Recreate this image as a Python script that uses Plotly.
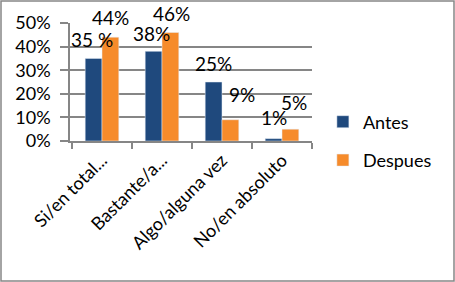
import plotly.graph_objects as go

categories = ["Si/en total...", "Bastante/a...", "Algo/alguna vez", "No/en absoluto"]
antes = [0.35, 0.38, 0.25, 0.01]
despues = [0.44, 0.46, 0.09, 0.05]
antes_labels = ["35 %", "38%", "25%", "1%"]
despues_labels = ["44%", "46%", "9%", "5%"]
tick_vals = [0, 0.1, 0.2, 0.3, 0.4, 0.5]
tick_text = ["0%", "10%", "20%", "30%", "40%", "50%"]

BLUE = "#1F497D"
ORANGE = "#F68B2B"
GRID = "#868686"
FONT = "Lato"

# label placement (pixel nudges, style only)
ANTES_NUDGE = [(-10, 19), (-11, 18), (-9, 19), (-8, 21)]
DESPUES_NUDGE = [(8, 20), (9, 19), (20, 25), (12, 27)]

fig = go.Figure()
fig.add_trace(go.Bar(name="Antes", x=categories, y=antes, marker_color=BLUE, legendgroup="a"))
fig.add_trace(go.Bar(name="Despues", x=categories, y=despues, marker_color=ORANGE, legendgroup="d"))

for i, c in enumerate(categories):
    fig.add_annotation(x=c, y=antes[i], text=antes_labels[i], showarrow=False,
                       xref="x", yref="y", xshift=ANTES_NUDGE[i][0], yshift=ANTES_NUDGE[i][1],
                       font=dict(size=19, color="#000", family=FONT), borderpad=0)
    fig.add_annotation(x=c, y=despues[i], text=despues_labels[i], showarrow=False,
                       xref="x", yref="y", xshift=DESPUES_NUDGE[i][0], yshift=DESPUES_NUDGE[i][1],
                       font=dict(size=19, color="#000", family=FONT), borderpad=0)

L, T, W, H = 70, 23, 242, 118
fig.add_shape(type="rect", xref="paper", yref="paper",
              x0=(1 - L) / W, x1=(454 - L) / W,
              y0=-(281 - (T + H)) / H, y1=(T + H - 1) / H,
              line=dict(color=GRID, width=1.5))

fig.update_layout(
    width=455, height=282,
    margin=dict(l=L, r=455 - L - W, t=T, b=282 - T - H, autoexpand=False),
    paper_bgcolor="white", plot_bgcolor="white",
    barmode="group", bargap=0.44, bargroupgap=0,
    font=dict(family=FONT, size=18, color="#000"),
    showlegend=True,
    legend=dict(x=1.045, y=0.0, yanchor="middle", xanchor="left",
                font=dict(size=18, family=FONT), itemwidth=30,
                tracegroupgap=12, bgcolor="rgba(0,0,0,0)"),
    xaxis=dict(type="category", showline=True, linecolor=GRID, linewidth=1.5,
               ticks="outside", tickson="boundaries", ticklen=6, tickcolor=GRID,
               tickwidth=1.5, tickangle=-45, showgrid=False, automargin=False,
               tickfont=dict(size=18, family=FONT)),
    yaxis=dict(range=[0, 0.5], tickvals=tick_vals, ticktext=tick_text,
               showline=True, linecolor=GRID, linewidth=1.5, gridcolor=GRID,
               gridwidth=1.5, ticks="outside", ticklen=8, tickcolor=GRID,
               tickwidth=1.5, zeroline=False, automargin=False,
               ticklabelstandoff=6,
               tickfont=dict(size=18, family=FONT)),
)
fig.write_html("out.html", config={"displayModeBar": False},
               post_script="document.body.style.margin='0';document.body.style.overflow='hidden';")
